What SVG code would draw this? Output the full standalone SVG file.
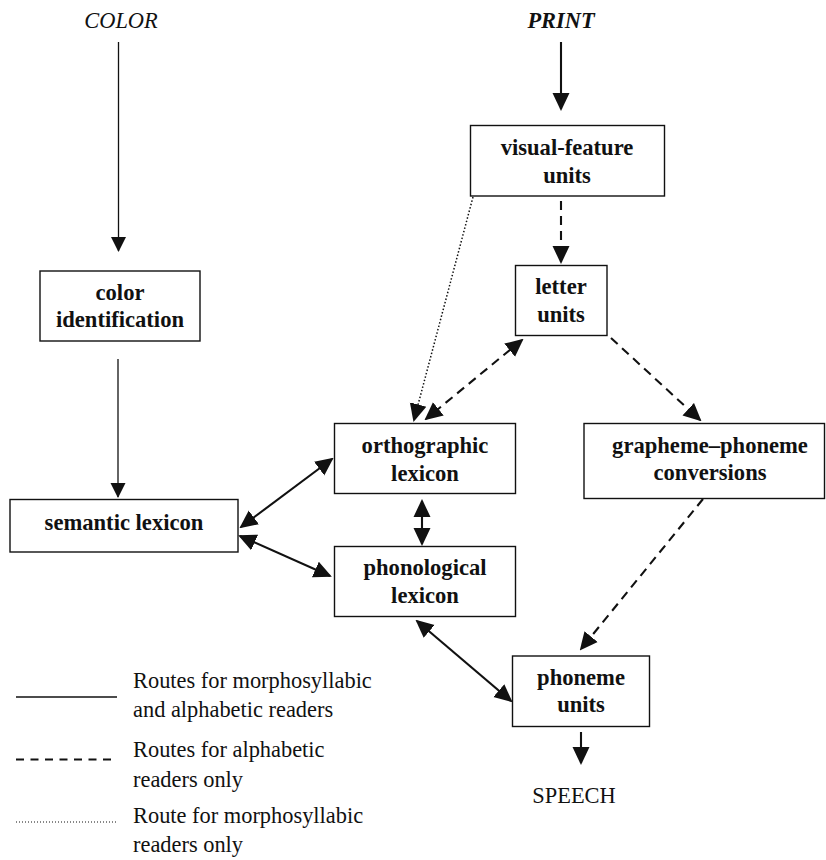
<svg xmlns="http://www.w3.org/2000/svg" width="826" height="860" viewBox="0 0 826 860">
<defs>
<style>
.box{fill:#fff;stroke:#111;stroke-width:1.4}
.lbl{font-family:"Liberation Serif","Times New Roman",serif;font-size:22.6px;font-weight:bold;text-anchor:middle;fill:#111}
.txt{font-family:"Liberation Serif","Times New Roman",serif;font-size:22.4px;fill:#111}
.solid{stroke:#111;stroke-width:2.1;fill:none}
.thin{stroke:#111;stroke-width:1.3;fill:none}
.dash{stroke:#111;stroke-width:2.1;fill:none;stroke-dasharray:9 6}
.dot{stroke:#111;stroke-width:1.5;fill:none;stroke-dasharray:1.5 2}
</style>
<marker id="ah" markerUnits="userSpaceOnUse" markerWidth="18" markerHeight="18" viewBox="0 0 18 18" refX="16" refY="9" orient="auto-start-reverse">
<path d="M0,0.5 L18,9 L0,17.5 z" fill="#111"/>
</marker>
<marker id="ahs" markerUnits="userSpaceOnUse" markerWidth="15" markerHeight="16" viewBox="0 0 15 16" refX="14" refY="8" orient="auto">
<path d="M0,0.5 L15,8 L0,15.5 z" fill="#111"/>
</marker>
</defs>
<rect width="826" height="860" fill="#fff"/>

<g id="connectors">
<line class="solid" x1="561" y1="42" x2="561" y2="109" marker-end="url(#ah)"/>
<line class="thin" x1="118.5" y1="42" x2="118.5" y2="251" marker-end="url(#ahs)"/>
<line class="thin" x1="118" y1="359" x2="118" y2="497" marker-end="url(#ahs)"/>
<line class="dash" x1="561" y1="201" x2="561" y2="262" marker-end="url(#ah)"/>
<line class="dash" x1="611" y1="338" x2="700" y2="420" marker-end="url(#ah)"/>
<line class="dash" x1="522" y1="340" x2="426" y2="419" marker-start="url(#ah)" marker-end="url(#ah)"/>
<line class="dot" x1="473" y1="197" x2="414" y2="420" marker-end="url(#ah)"/>
<line class="solid" x1="332" y1="459" x2="241" y2="527" marker-start="url(#ah)" marker-end="url(#ah)"/>
<line class="solid" x1="240" y1="536" x2="330" y2="576" marker-start="url(#ah)" marker-end="url(#ah)"/>
<line class="solid" x1="422" y1="501" x2="422" y2="544" marker-start="url(#ah)" marker-end="url(#ah)"/>
<line class="solid" x1="417" y1="621" x2="511" y2="701" marker-start="url(#ah)" marker-end="url(#ah)"/>
<line class="dash" x1="703" y1="499" x2="581" y2="649" marker-end="url(#ah)"/>
<line class="solid" x1="581" y1="732" x2="581" y2="763" marker-end="url(#ah)"/>
</g>

<g id="input-color"><text class="txt" x="121" y="28" text-anchor="middle" font-style="italic">COLOR</text></g>
<g id="input-print"><text class="txt" x="561" y="28" text-anchor="middle" font-style="italic" font-weight="bold">PRINT</text></g>

<g id="visual-feature">
<rect class="box" x="470.5" y="125.5" width="194" height="70.5"/>
<text class="lbl" x="567" y="155">visual-feature</text>
<text class="lbl" x="567" y="183">units</text>
</g>
<g id="letter-units">
<rect class="box" x="515.5" y="265.5" width="91.5" height="70"/>
<text class="lbl" x="561" y="294">letter</text>
<text class="lbl" x="561" y="322">units</text>
</g>
<g id="color-identification">
<rect class="box" x="40" y="271" width="160" height="70"/>
<text class="lbl" x="120" y="300">color</text>
<text class="lbl" x="120" y="327">identification</text>
</g>
<g id="semantic-lexicon">
<rect class="box" x="10" y="499.5" width="228" height="52.5"/>
<text class="lbl" x="124" y="529.5">semantic lexicon</text>
</g>
<g id="orthographic-lexicon">
<rect class="box" x="334.5" y="423.5" width="181" height="70"/>
<text class="lbl" x="425" y="453">orthographic</text>
<text class="lbl" x="425" y="481">lexicon</text>
</g>
<g id="grapheme-phoneme">
<rect class="box" x="584" y="423.5" width="240.5" height="75"/>
<text class="lbl" x="710" y="453">grapheme–phoneme</text>
<text class="lbl" x="710" y="480">conversions</text>
</g>
<g id="phonological-lexicon">
<rect class="box" x="334.5" y="546.5" width="181" height="70"/>
<text class="lbl" x="425" y="575">phonological</text>
<text class="lbl" x="425" y="603">lexicon</text>
</g>
<g id="phoneme-units">
<rect class="box" x="512.5" y="656" width="137" height="70.5"/>
<text class="lbl" x="581" y="685">phoneme</text>
<text class="lbl" x="581" y="712">units</text>
</g>
<g id="output-speech"><text class="txt" x="574" y="803" text-anchor="middle">SPEECH</text></g>

<g id="legend">
<line x1="16" y1="697" x2="117" y2="697" stroke="#111" stroke-width="1.6"/>
<text class="txt" x="133" y="688">Routes for morphosyllabic</text>
<text class="txt" x="133" y="717">and alphabetic readers</text>
<line x1="16" y1="759.5" x2="117" y2="759.5" stroke="#111" stroke-width="2" stroke-dasharray="8 6.5"/>
<text class="txt" x="133" y="757">Routes for alphabetic</text>
<text class="txt" x="133" y="787">readers only</text>
<line x1="16" y1="822" x2="117" y2="822" stroke="#111" stroke-width="1" stroke-dasharray="1 2"/>
<text class="txt" x="133" y="823">Route for morphosyllabic</text>
<text class="txt" x="133" y="852">readers only</text>
</g>
</svg>
